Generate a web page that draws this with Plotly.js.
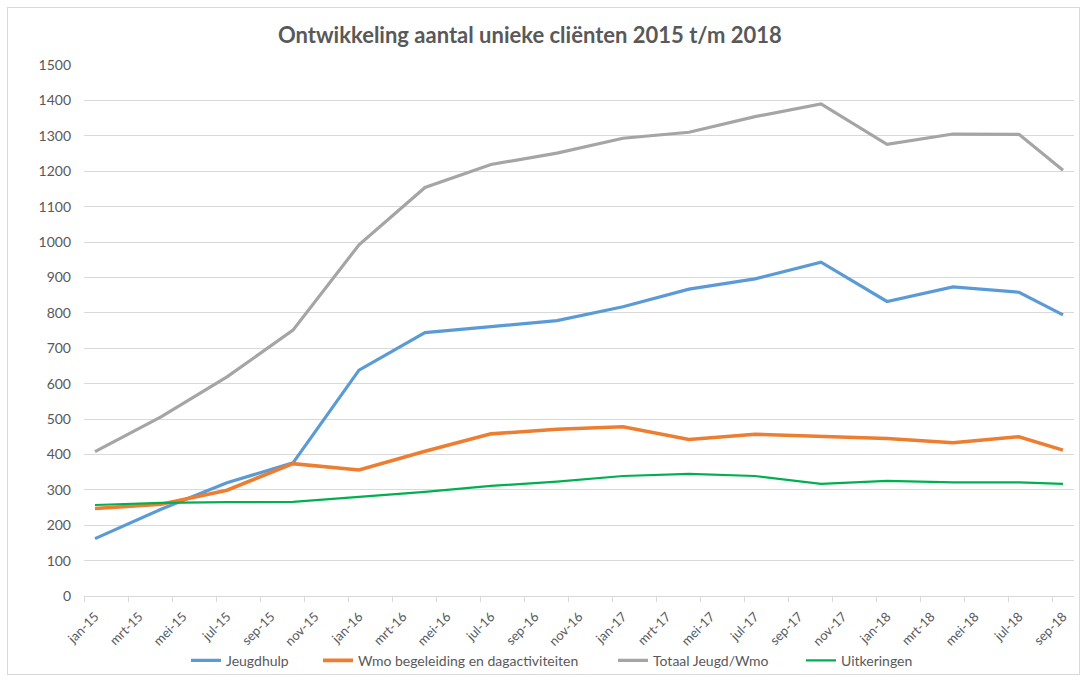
<!DOCTYPE html>
<html>
<head>
<meta charset="utf-8">
<script src="https://cdn.plot.ly/plotly-3.0.1.min.js"></script>
<style>
  html, body { margin: 0; padding: 0; background: #ffffff; }
  #wrap { position: relative; width: 1088px; height: 682px; }
  #chart { width: 1088px; height: 682px; }
  #frame { position: absolute; left: 7px; top: 7px; width: 1073px; height: 668px; border: 1px solid #d9d9d9; pointer-events: none; box-sizing: border-box; }
</style>
</head>
<body>
<div id="wrap"><div id="chart"></div><div id="frame"></div></div>
<script>
// Data (quarterly measurements, last one in September 2018)
const dates = ['2015-01','2015-04','2015-07','2015-10','2016-01','2016-04','2016-07','2016-10',
               '2017-01','2017-04','2017-07','2017-10','2018-01','2018-04','2018-07','2018-09'];
const jeugdhulp   = [162, 245, 320, 376, 638, 744, 761, 778, 817, 867, 896, 943, 832, 873, 858, 794];
const wmo         = [247, 259, 299, 374, 356, 409, 458, 471, 478, 442, 457, 450, 445, 433, 450, 412];
const totaal      = [408, 506, 619, 751, 992, 1154, 1219, 1251, 1293, 1310, 1354, 1390, 1276, 1305, 1304, 1203];
const uitkeringen = [257, 263, 265, 266, 280, 294, 311, 323, 339, 345, 339, 317, 325, 321, 321, 317];

const seriesNames = ['Jeugdhulp', 'Wmo begeleiding en dagactiviteiten', 'Totaal Jeugd/Wmo', 'Uitkeringen'];

const tickLabels = ['jan-15','mrt-15','mei-15','jul-15','sep-15','nov-15',
                    'jan-16','mrt-16','mei-16','jul-16','sep-16','nov-16',
                    'jan-17','mrt-17','mei-17','jul-17','sep-17','nov-17',
                    'jan-18','mrt-18','mei-18','jul-18','sep-18'];

// month index since jan-2015 (Excel-style monthly date axis)
function monthIndex(s) {
  const [y, m] = s.split('-').map(Number);
  return (y - 2015) * 12 + (m - 1);
}
const x = dates.map(monthIndex);
const tickVals = tickLabels.map((_, i) => i * 2);

const FONT = 'Lato, "Open Sans", sans-serif';
const GREY = '#595959';

const styles = [
  { color: '#5B9BD5', width: 3.2, legend: 'legend'  },
  { color: '#ED7D31', width: 3.6, legend: 'legend2' },
  { color: '#A5A5A5', width: 3.2, legend: 'legend3' },
  { color: '#00B050', width: 2.2, legend: 'legend4' }
];
const values = [jeugdhulp, wmo, totaal, uitkeringen];

const traces = values.map((v, i) => ({
  type: 'scatter', mode: 'lines', name: seriesNames[i], x: x, y: v,
  line: { color: styles[i].color, width: styles[i].width },
  legend: styles[i].legend
}));

function leg(xp) {
  return {
    orientation: 'h', x: xp, xanchor: 'left', y: -0.122, yanchor: 'middle',
    font: { family: FONT, size: 14, color: GREY },
    itemwidth: 30, bgcolor: 'rgba(0,0,0,0)'
  };
}

const layout = {
  width: 1088, height: 682,
  paper_bgcolor: '#ffffff', plot_bgcolor: '#ffffff',
  margin: { l: 84, r: 14, t: 65, b: 86, autoexpand: false },
  font: { family: FONT, color: GREY, size: 13 },
  title: {
    text: 'Ontwikkeling aantal unieke cliënten 2015 t/m 2018',
    font: { family: FONT, size: 22, color: GREY, weight: 'bold' },
    x: 0.487, xanchor: 'center', y: 0.948, yanchor: 'middle'
  },
  xaxis: {
    range: [-0.5, 44.5], automargin: false,
    tickmode: 'array', tickvals: tickVals, ticktext: tickLabels,
    tickangle: -45, ticks: '', ticklabelstandoff: 7,
    tickfont: { family: FONT, size: 13, color: GREY },
    showgrid: false, zeroline: false,
    showline: true, linecolor: '#d9d9d9', linewidth: 1,
    minor: { tickmode: 'linear', tick0: -0.5, dtick: 2, ticks: 'outside', ticklen: 5, tickcolor: '#d9d9d9', tickwidth: 1, showgrid: false },
    fixedrange: true
  },
  yaxis: {
    range: [0, 1500], dtick: 100, tick0: 0, automargin: false,
    ticks: '', ticklabelstandoff: 12,
    tickfont: { family: FONT, size: 14, color: GREY },
    showgrid: true, gridcolor: '#d9d9d9', gridwidth: 1,
    zeroline: false, showline: false,
    fixedrange: true
  },
  showlegend: true,
  legend:  leg((186 - 84) / 990),
  legend2: leg((318 - 84) / 990),
  legend3: leg((613 - 84) / 990),
  legend4: leg((801 - 84) / 990)
};

Plotly.newPlot('chart', traces, layout, { displayModeBar: false, staticPlot: true });
</script>
</body>
</html>
